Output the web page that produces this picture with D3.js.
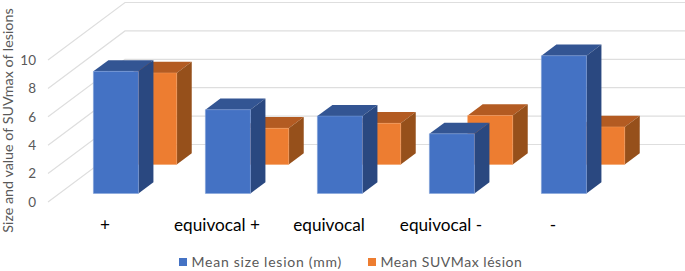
<!DOCTYPE html>
<html>
<head>
<meta charset="utf-8">
<script src="https://cdn.jsdelivr.net/npm/d3@7"></script>
<style>
  html, body { margin: 0; padding: 0; background: #fff; }
  svg { display: block; }
  text { font-family: Lato, "Open Sans", sans-serif; }
</style>
</head>
<body>
<script>
/* DATA */
var categories = ["+", "equivocal +", "equivocal", "equivocal -", "-"];
var meanSize = [8.6, 5.9, 5.45, 4.2, 9.7];
var meanSuv = [6.45, 2.55, 2.9, 3.45, 2.65];
var yTicks = [0, 2, 4, 6, 8, 10];
var seriesNames = ["Mean size lesion (mm)", "Mean SUVMax lésion"];

var width = 685, height = 271;

var svg = d3.select("body").append("svg")
    .attr("width", width)
    .attr("height", height);

// set the ranges
var x = d3.scaleBand().domain(categories).range([49, 609])
    .paddingInner(0.598).paddingOuter(0.299);
var y = d3.scaleLinear().domain([0, 10]).range([202, 60]);

// depth goes from the front of the floor (0) to the back wall (1)
var depthX = d3.scaleLinear().domain([0, 1]).range([0, 77]);
var depthY = d3.scaleLinear().domain([0, 1]).range([0, -57.5]);

function px(wx, z) { return wx + depthX(z); }
function py(v, z) { return y(v) + depthY(z); }

// the back wall and the left wall lines
var grid = svg.append("g")
    .attr("fill", "none")
    .attr("stroke", "#dedede")
    .attr("stroke-width", 1.2);

yTicks.forEach(function(t) {
  grid.append("path")
    .attr("d", d3.line()([
      [px(x.range()[0] - 1, 0), py(t, 0)],
      [px(x.range()[0] - 1, 1), py(t, 1)],
      [width, py(t, 1)]
    ]));
});

// one box: front, top and right side
function drawBars(values, z0, shift, colors) {
  var thick = 0.195;
  var g = svg.append("g");
  values.forEach(function(v, i) {
    var x0 = x(categories[i]) + shift,
        x1 = x0 + x.bandwidth(),
        z1 = z0 + thick;
    g.append("path")
      .attr("fill", colors.top)
      .attr("d", d3.line()([
        [px(x0, z0), py(v, z0)], [px(x1, z0), py(v, z0)],
        [px(x1, z1), py(v, z1)], [px(x0, z1), py(v, z1)]
      ]) + "Z");
    g.append("path")
      .attr("fill", colors.side)
      .attr("d", d3.line()([
        [px(x1, z0), py(v, z0)], [px(x1, z1), py(v, z1)],
        [px(x1, z1), py(0, z1)], [px(x1, z0), py(0, z0)]
      ]) + "Z");
    g.append("path")
      .attr("fill", colors.front)
      .attr("stroke", colors.edge)
      .attr("stroke-width", 0.5)
      .attr("d", d3.line()([
        [px(x0, z0), py(v, z0)], [px(x1, z0), py(v, z0)],
        [px(x1, z0), py(0, z0)], [px(x0, z0), py(0, z0)]
      ]) + "Z");
  });
}

var orange = {front: "#ed7d31", top: "#b35b22", side: "#96501b", edge: "#f29a5c"};
var blue = {front: "#4472c4", top: "#335593", side: "#2a4880", edge: "#7f9fd8"};

drawBars(meanSuv, 0.652, -1, orange);
drawBars(meanSize, 0.148, -0.5, blue);

// y tick labels
svg.append("g")
    .attr("transform", "translate(36,0)")
    .call(d3.axisLeft(y).tickValues(yTicks).tickSize(0).tickPadding(0))
    .call(function(g) { g.select(".domain").remove(); })
    .selectAll("text")
    .attr("fill", "#595959")
    .style("font-family", "Lato")
    .style("font-size", "13.5px");

// category labels
svg.append("g")
    .attr("transform", "translate(0,219)")
    .call(d3.axisBottom(x).tickSize(0).tickPadding(0))
    .call(function(g) { g.select(".domain").remove(); })
    .selectAll("text")
    .attr("fill", "#000")
    .style("font-family", "Lato")
    .style("font-size", "17.2px");

// y title
svg.append("text")
    .attr("transform", "translate(13,120.5) rotate(-90)")
    .attr("text-anchor", "middle")
    .attr("fill", "#595959")
    .style("font-size", "14.3px")
    .text("Size and value of SUVmax of lesions");

// legend
var legendX = [179, 368];
var legendColors = [blue.front, orange.front];
var legendSpacing = [0.75, 0.55];
seriesNames.forEach(function(name, i) {
  svg.append("rect")
    .attr("x", legendX[i])
    .attr("y", 258)
    .attr("width", 8)
    .attr("height", 8)
    .attr("fill", legendColors[i]);
  svg.append("text")
    .attr("x", legendX[i] + 12.5)
    .attr("y", 267)
    .attr("fill", "#595959")
    .style("font-size", "14px")
    .style("letter-spacing", legendSpacing[i] + "px")
    .text(name);
});
</script>
</body>
</html>
